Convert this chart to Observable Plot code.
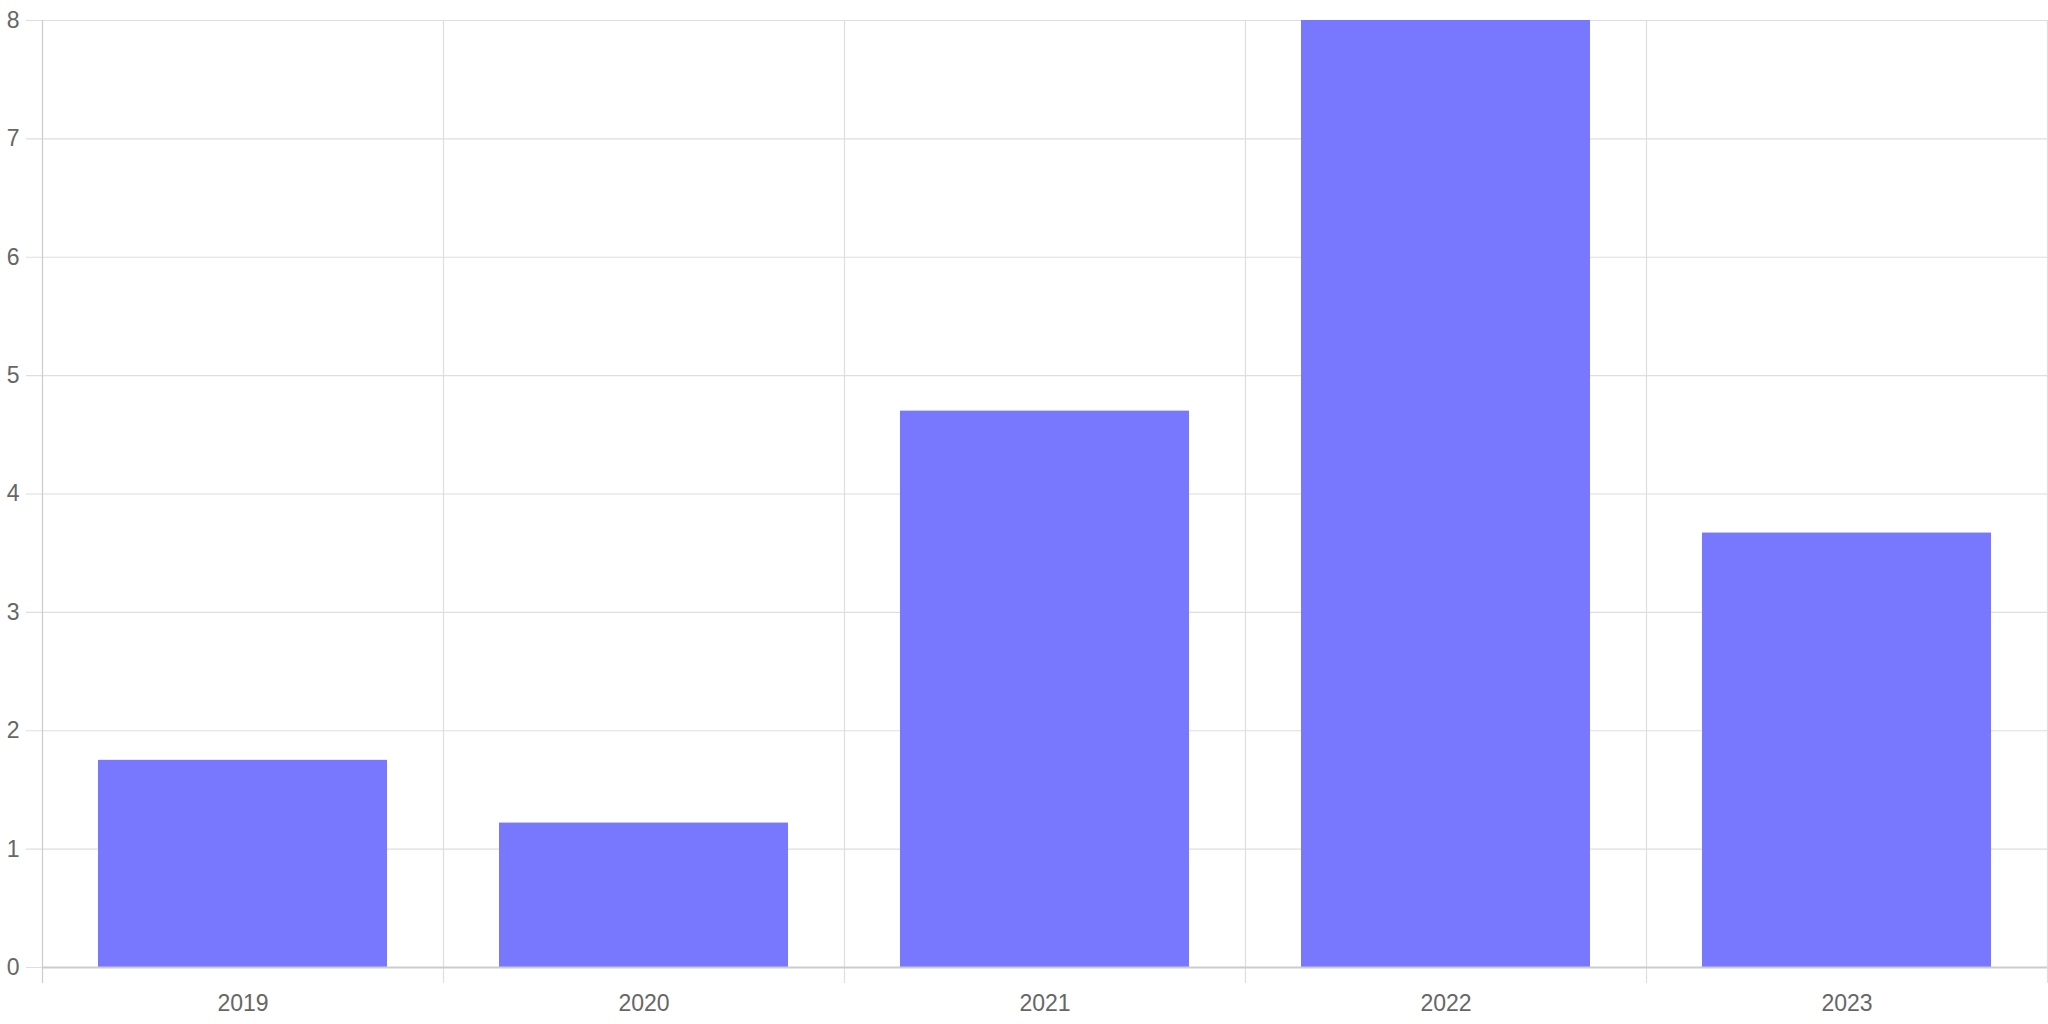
<!DOCTYPE html>
<html>
<head>
<meta charset="utf-8">
<script src="https://cdn.jsdelivr.net/npm/d3@7"></script>
<script src="https://cdn.jsdelivr.net/npm/@observablehq/plot@0.6"></script>
<style>
  html, body { margin: 0; padding: 0; background: #fff; }
  #chart svg { display: block; }
</style>
</head>
<body>
<div id="chart"></div>
<script>
const years = [2019, 2020, 2021, 2022, 2023];
const values = [1.75, 1.22, 4.7, 8, 3.67];
const yTicks = [0, 1, 2, 3, 4, 5, 6, 7, 8];

const data = years.map((year, i) => ({year, value: values[i]}));
const boundaries = [years[0] - 0.5, ...years.map(y => y + 0.5)];

const chart = Plot.plot({
  width: 2048,
  height: 1024,
  marginLeft: 42,
  marginRight: 1,
  marginTop: 20,
  marginBottom: 57,
  style: {fontFamily: "'Liberation Sans', Arial, sans-serif", fontSize: "23px", color: "#666", background: "#fff"},
  x: {domain: [years[0] - 0.5, years[years.length - 1] + 0.5], label: null},
  y: {domain: [0, 8], label: null},
  marks: [
    Plot.ruleY(yTicks, {y: d => d, stroke: "#dedede", strokeWidth: 1.2, strokeOpacity: 1, insetLeft: -16}),
    Plot.ruleX(boundaries, {x: d => d, stroke: (d, i) => i === 0 ? "#cccccc" : "#dedede", strokeWidth: 1.2, insetBottom: -16}),
    Plot.rectY(data, {x1: d => d.year - 0.5, x2: d => d.year + 0.5, y: "value", fill: "#7878ff", insetLeft: 56, insetRight: 56}),
    Plot.ruleY([0], {stroke: "#cccccc", strokeWidth: 2}),
    Plot.axisY({ticks: yTicks, tickSize: 0, tickPadding: 23, tickFormat: d => String(d), fill: "#666", fontSize: 23, label: null}),
    Plot.axisX({ticks: years, tickSize: 0, tickPadding: 27, tickFormat: d => String(d), fill: "#666", fontSize: 23, label: null})
  ]
});
document.getElementById("chart").appendChild(chart);
</script>
</body>
</html>
